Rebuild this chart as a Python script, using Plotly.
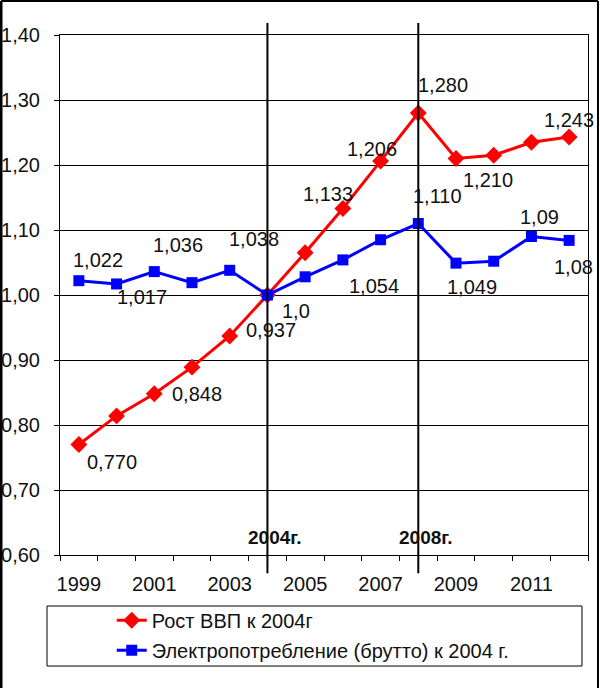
import plotly.graph_objects as go

years = list(range(1999, 2013))
gdp = [0.770, 0.814, 0.848, 0.889, 0.937, 1.000, 1.065, 1.133, 1.206, 1.280, 1.210, 1.215, 1.235, 1.243]
elec = [1.022, 1.017, 1.036, 1.019, 1.038, 1.000, 1.028, 1.054, 1.085, 1.110, 1.049, 1.052, 1.090, 1.084]

gdp_labels = ["0,770", "", "0,848", "", "0,937", "1,0", "", "1,133", "1,206", "1,280", "1,210", "", "", "1,243"]
elec_labels = ["1,022", "1,017", "1,036", "", "1,038", "", "", "1,054", "", "1,110", "1,049", "", "1,09", "1,08"]

xtick_years = [1999, 2001, 2003, 2005, 2007, 2009, 2011]
marker_years = [2004, 2008]
marker_texts = ["2004г.", "2008г."]

name_gdp = "Рост ВВП к 2004г"
name_elec = "Электропотребление (брутто) к 2004 г."

# label pixel offsets (dx, dy with dy positive downward)
gdp_off = [(33, 17), None, (43, 0), None, (41, -6), (29, 16), None, (-15, -15), (-9, -12), (25, -28), (32, 21), None, None, (0, -17)]
elec_off = [(19, -21), (25, 13), (24, -27), None, (24, -31), None, None, (31, 26), None, (19, -28), (16, 24), None, (8, -20), (4, 27)]

FONT = "Liberation Sans, Arial, sans-serif"
RED = "#FF0000"
BLUE = "#0000FF"

fig = go.Figure()
fig.add_trace(go.Scatter(x=years, y=gdp, mode="lines+markers", name=name_gdp,
                         legendgroup="a",
                         line=dict(color=RED, width=3),
                         marker=dict(symbol="diamond", size=13, color=RED)))
fig.add_trace(go.Scatter(x=years, y=elec, mode="lines+markers", name=name_elec,
                         legendgroup="b",
                         line=dict(color=BLUE, width=3),
                         marker=dict(symbol="square", size=11, color=BLUE)))

annotations = []
for xs, ys, labs, offs in [(years, gdp, gdp_labels, gdp_off), (years, elec, elec_labels, elec_off)]:
    for x, y, t, o in zip(xs, ys, labs, offs):
        if t and o:
            annotations.append(dict(x=x, y=y, text=t, showarrow=False, xref="x", yref="y",
                                    xshift=o[0], yshift=-o[1],
                                    font=dict(family=FONT, size=20, color="#111")))

shapes = []
for yr, txt in zip(marker_years, marker_texts):
    shapes.append(dict(type="line", xref="x", yref="paper", x0=yr, x1=yr, y0=-0.035, y1=1.023,
                       line=dict(color="black", width=2)))
    annotations.append(dict(x=yr, y=0.6, xref="x", yref="y", text="<b>" + txt + "</b>", showarrow=False,
                            xshift=8, yshift=18, font=dict(family=FONT, size=19, color="#111")))

# legend box
shapes.append(dict(type="rect", xref="paper", yref="paper", x0=-0.0246, x1=0.9886, y0=-0.2135, y1=-0.0981,
                   line=dict(color="black", width=1)))
# outer frame
shapes.append(dict(type="line", xref="paper", yref="paper", x0=-0.1117, x1=-0.1117, y0=-0.26, y1=1.0654,
                   line=dict(color="black", width=3)))
shapes.append(dict(type="line", xref="paper", yref="paper", x0=-0.1117, x1=1.0189, y0=1.0654, y1=1.0654,
                   line=dict(color="black", width=2)))
shapes.append(dict(type="line", xref="paper", yref="paper", x0=1.0189, x1=1.0189, y0=-0.26, y1=1.0654,
                   line=dict(color="black", width=2)))

fig.update_layout(
    width=600, height=688,
    margin=dict(l=60, r=12, t=35, b=133, autoexpand=False),
    paper_bgcolor="white", plot_bgcolor="white",
    separators=", ",
    font=dict(family=FONT, size=20, color="#111"),
    showlegend=True,
    legend=dict(x=0.098, y=-0.088, xanchor="left", yanchor="top",
                font=dict(family=FONT, size=20, color="#111"),
                bgcolor="rgba(0,0,0,0)", borderwidth=0, tracegroupgap=1),
    annotations=annotations,
    shapes=shapes,
    xaxis=dict(range=[1998.5, 2012.5], tickmode="array", tickvals=xtick_years,
               ticktext=[str(v) for v in xtick_years], ticks="", showgrid=False,
               showline=True, linecolor="black", linewidth=1, mirror=True,
               ticklabelstandoff=11, zeroline=False, automargin=False,
               tickfont=dict(size=20),
               minor=dict(tickmode="array", tickvals=[1998.5 + i for i in range(15)],
                          ticks="outside", ticklen=5, tickcolor="black", showgrid=False)),
    yaxis=dict(range=[0.6, 1.4], dtick=0.1, tick0=0.6, tickformat=".2f", showgrid=True,
               gridcolor="black", gridwidth=1, showline=True, linecolor="black", linewidth=1,
               mirror=True, ticks="outside", ticklen=5, tickcolor="black", zeroline=False,
               ticklabelstandoff=10, automargin=False, tickfont=dict(size=20)),
)

fig.write_html("out.html", config={"displayModeBar": False},
               post_script="document.body.style.margin='0';")
